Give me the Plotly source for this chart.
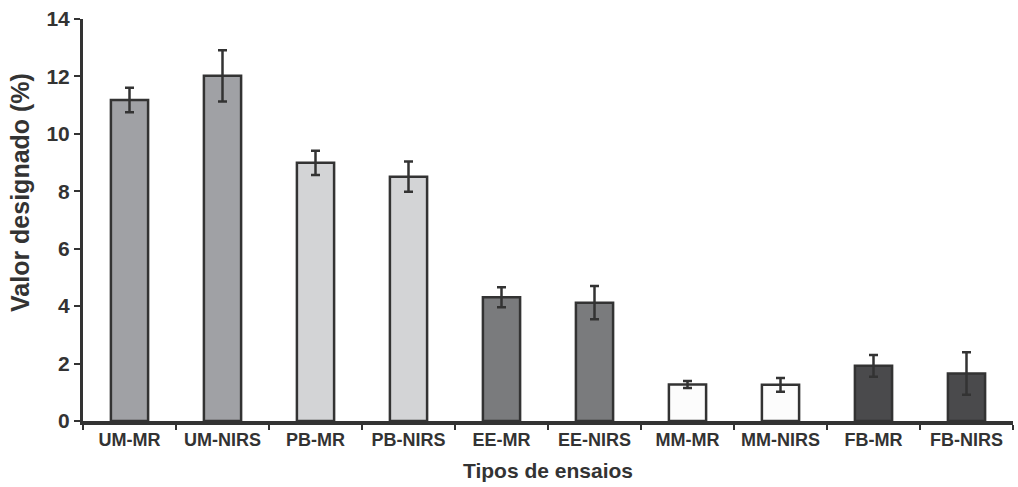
import plotly.graph_objects as go

categories = ["UM-MR", "UM-NIRS", "PB-MR", "PB-NIRS", "EE-MR", "EE-NIRS",
              "MM-MR", "MM-NIRS", "FB-MR", "FB-NIRS"]
values = [11.18, 12.02, 8.99, 8.51, 4.31, 4.12, 1.27, 1.26, 1.92, 1.65]
errors = [0.43, 0.89, 0.42, 0.53, 0.35, 0.58, 0.12, 0.24, 0.38, 0.74]
colors = ["#a0a1a5", "#a0a1a5", "#d3d4d6", "#d3d4d6", "#7a7b7d", "#7a7b7d",
          "#fcfcfc", "#fcfcfc", "#4a4a4c", "#4a4a4c"]
yticks = [0, 2, 4, 6, 8, 10, 12, 14]

font_family = "Liberation Sans, Arial, sans-serif"
dark = "#333333"

fig = go.Figure(go.Bar(
    x=categories, y=values, width=0.4,
    marker=dict(color=colors, line=dict(color=dark, width=2.5)),
    error_y=dict(type="data", array=errors, color=dark, thickness=2.5, width=4.5),
))

fig.update_layout(
    width=1018, height=487,
    margin=dict(l=83, r=5, t=19, b=66),
    plot_bgcolor="white", paper_bgcolor="white",
    showlegend=False,
    font=dict(family=font_family, color=dark),
    bargap=0.6,
)
fig.update_xaxes(
    type="category", tickson="boundaries", ticks="outside", ticklen=5, tickwidth=2,
    tickcolor=dark, showline=True, linecolor=dark, linewidth=3.5, showgrid=False,
    tickfont=dict(size=18, family=font_family, color=dark, weight="bold"),
    title=dict(text="<b>Tipos de ensaios</b>", font=dict(size=21, family=font_family, color=dark), standoff=15),
)
fig.update_yaxes(
    range=[0, 14], tickvals=yticks, ticks="outside", ticklen=6, tickwidth=2,
    tickcolor=dark, showline=True, linecolor=dark, linewidth=3, showgrid=False, zeroline=False,
    tickfont=dict(size=21, family=font_family, color=dark, weight="bold"),
)
fig.add_annotation(
    text="<b>Valor designado (%)</b>", textangle=-90, showarrow=False,
    xref="paper", yref="paper", x=-(83 - 20) / 930, y=(421 - 193) / 402,
    xanchor="center", yanchor="middle",
    font=dict(size=25, family=font_family, color=dark),
)

fig.write_html("out.html")
